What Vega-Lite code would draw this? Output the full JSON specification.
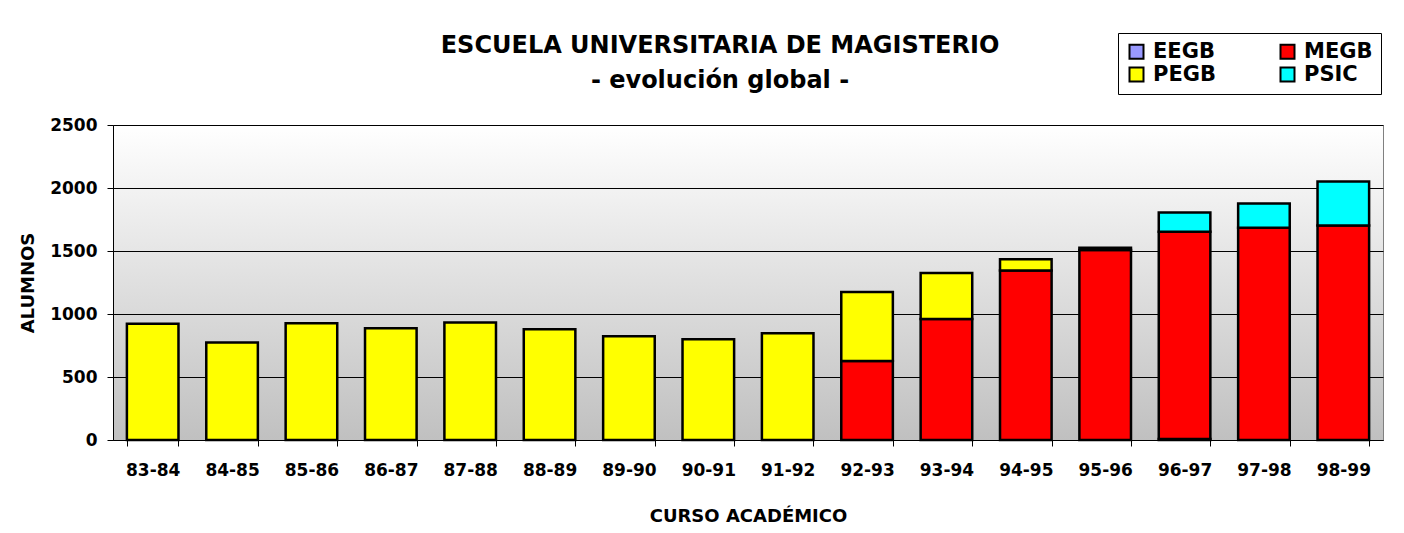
{
  "$schema": "https://vega.github.io/schema/vega-lite/v6.json",
  "width": 1270,
  "height": 315,
  "autosize": {"type": "none"},
  "padding": {"left": 113, "top": 125, "right": 21, "bottom": 93},
  "background": "white",
  "title": {
    "text": ["ESCUELA UNIVERSITARIA DE MAGISTERIO", "- evolución global -"],
    "font": "DejaVu Sans",
    "fontSize": 24,
    "fontWeight": "bold",
    "lineHeight": 35,
    "color": "black",
    "anchor": "middle",
    "frame": "group",
    "dx": -28,
    "dy": 60,
    "offset": 0
  },
  "config": {
    "view": {
      "stroke": "#808080",
      "strokeWidth": 1,
      "fill": {
        "gradient": "linear",
        "x1": 0, "y1": 0, "x2": 0, "y2": 1,
        "stops": [
          {"offset": 0, "color": "#ffffff"},
          {"offset": 1, "color": "#c0c0c0"}
        ]
      }
    }
  },
  "data": {
    "values": [
      {"curso": "83-84", "serie": "PEGB", "alumnos": 922},
      {"curso": "84-85", "serie": "PEGB", "alumnos": 774},
      {"curso": "85-86", "serie": "PEGB", "alumnos": 927},
      {"curso": "86-87", "serie": "PEGB", "alumnos": 887},
      {"curso": "87-88", "serie": "PEGB", "alumnos": 932},
      {"curso": "88-89", "serie": "PEGB", "alumnos": 879},
      {"curso": "89-90", "serie": "PEGB", "alumnos": 824},
      {"curso": "90-91", "serie": "PEGB", "alumnos": 800},
      {"curso": "91-92", "serie": "PEGB", "alumnos": 848},
      {"curso": "92-93", "serie": "MEGB", "alumnos": 627},
      {"curso": "92-93", "serie": "PEGB", "alumnos": 548},
      {"curso": "93-94", "serie": "MEGB", "alumnos": 960},
      {"curso": "93-94", "serie": "PEGB", "alumnos": 365},
      {"curso": "94-95", "serie": "MEGB", "alumnos": 1345},
      {"curso": "94-95", "serie": "PEGB", "alumnos": 90},
      {"curso": "95-96", "serie": "MEGB", "alumnos": 1508},
      {"curso": "95-96", "serie": "PEGB", "alumnos": 18},
      {"curso": "96-97", "serie": "EEGB", "alumnos": 8},
      {"curso": "96-97", "serie": "MEGB", "alumnos": 1644},
      {"curso": "96-97", "serie": "PSIC", "alumnos": 153},
      {"curso": "97-98", "serie": "MEGB", "alumnos": 1684},
      {"curso": "97-98", "serie": "PSIC", "alumnos": 192},
      {"curso": "98-99", "serie": "MEGB", "alumnos": 1702},
      {"curso": "98-99", "serie": "PSIC", "alumnos": 350}
    ]
  },
  "mark": {"type": "bar", "stroke": "black", "strokeWidth": 2.5},
  "encoding": {
    "x": {
      "field": "curso",
      "type": "nominal",
      "sort": null,
      "scale": {"paddingInner": 0.35, "paddingOuter": 0.175},
      "axis": {
        "title": "CURSO ACADÉMICO",
        "titleFont": "DejaVu Sans",
        "titleFontSize": 18,
        "titleFontWeight": "bold",
        "titleColor": "black",
        "titlePadding": 29,
        "labelAngle": 0,
        "labelFont": "DejaVu Sans",
        "labelFontSize": 17,
        "labelFontWeight": "bold",
        "labelColor": "black",
        "labelPadding": 16,
        "tickBand": "extent",
        "tickSize": 6,
        "tickColor": "black",
        "domainColor": "black",
        "domainWidth": 1
      }
    },
    "y": {
      "field": "alumnos",
      "type": "quantitative",
      "aggregate": "sum",
      "stack": "zero",
      "scale": {"domain": [0, 2500], "nice": false},
      "axis": {
        "title": "ALUMNOS",
        "values": [0, 500, 1000, 1500, 2000, 2500],
        "format": "d",
        "titleFont": "DejaVu Sans",
        "titleFontSize": 18,
        "titleFontWeight": "bold",
        "titleColor": "black",
        "titlePadding": 12,
        "labelFont": "DejaVu Sans",
        "labelFontSize": 17,
        "labelFontWeight": "bold",
        "labelColor": "black",
        "labelPadding": 10,
        "tickSize": 6,
        "tickColor": "black",
        "domainColor": "black",
        "grid": true,
        "gridColor": "black",
        "gridWidth": 1
      }
    },
    "color": {
      "field": "serie",
      "type": "nominal",
      "scale": {
        "domain": ["EEGB", "MEGB", "PEGB", "PSIC"],
        "range": ["#9999FF", "#FF0000", "#FFFF00", "#00FFFF"]
      },
      "legend": {
        "title": null,
        "orient": "none",
        "legendX": 1005,
        "legendY": -92,
        "direction": "horizontal",
        "columns": 2,
        "columnPadding": 60,
        "rowPadding": 0,
        "padding": 8,
        "strokeColor": "black",
        "fillColor": "white",
        "symbolType": "square",
        "symbolSize": 196,
        "symbolStrokeColor": "black",
        "symbolStrokeWidth": 2,
        "symbolOpacity": 1,
        "labelFont": "DejaVu Sans",
        "labelFontSize": 21,
        "labelFontWeight": "bold",
        "labelColor": "black",
        "labelOffset": 6
      }
    },
    "order": {"field": "serie", "type": "nominal", "sort": "ascending"}
  }
}
